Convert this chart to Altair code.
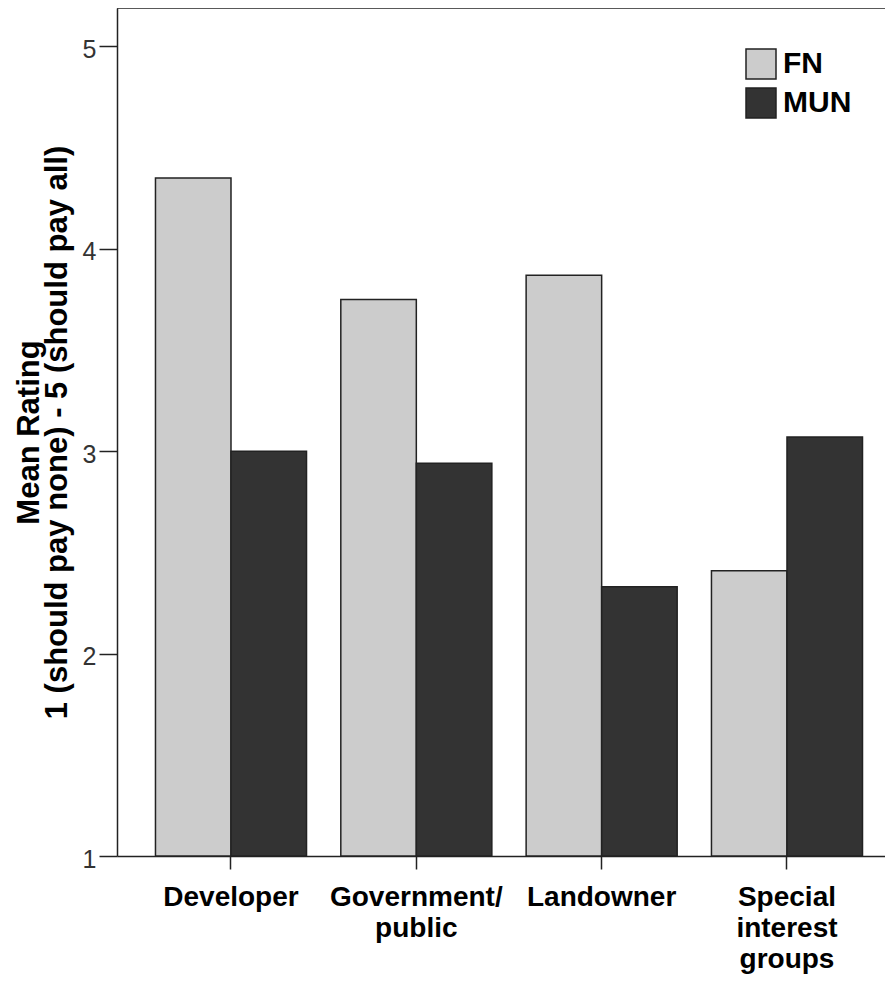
import altair as alt
import pandas as pd

categories = ["Developer", "Government/ public", "Landowner", "Special interest groups"]
groups = ["FN", "MUN"]
fn_values = [4.35, 3.75, 3.87, 2.41]
mun_values = [3.00, 2.94, 2.33, 3.07]
y_ticks = [1, 2, 3, 4, 5]
colors = ["#cccccc", "#333333"]

rows = []
for c, f, m in zip(categories, fn_values, mun_values):
    rows.append({"category": c, "group": "FN", "rating": f})
    rows.append({"category": c, "group": "MUN", "rating": m})
df = pd.DataFrame(rows)

W, H = 768, 848
FONT = "Liberation Sans"

label_expr = (
    "datum.label == 'Government/ public' ? ['Government/', 'public'] : "
    "datum.label == 'Special interest groups' ? ['Special', 'interest', 'groups'] : datum.label"
)

bars = alt.Chart(df).mark_bar(stroke="#222222", strokeWidth=1.5).encode(
    x=alt.X(
        "category:N",
        sort=categories,
        scale=alt.Scale(paddingInner=0.185, paddingOuter=0.1645, align=0.631, round=False),
        axis=alt.Axis(
            title=None, labelAngle=0, labelExpr=label_expr, labelFont=FONT,
            labelFontSize=28, labelFontWeight="bold", labelColor="#000000",
            labelLineHeight=31, labelPadding=14, labelBaseline="top", labelLimit=0,
            tickSize=13, tickColor="#222222", tickWidth=1.5,
            domainColor="#222222", domainWidth=1.5, grid=False,
        ),
    ),
    xOffset=alt.XOffset("group:N", sort=groups, scale=alt.Scale(paddingInner=0, paddingOuter=0)),
    y=alt.Y(
        "rating:Q",
        scale=alt.Scale(domain=[1, 5.19], zero=False, nice=False),
        axis=alt.Axis(
            values=y_ticks, format="d",
            title=["Mean Rating", "1 (should pay none) - 5 (should pay all)"],
            titleFont=FONT, titleFontSize=31, titleFontWeight="bold", titleColor="#000000",
            titleLineHeight=28, titlePadding=9,
            labelFont=FONT, labelFontSize=25, labelColor="#333333", labelPadding=3,
            labelOffset=3,
            tickSize=18, tickColor="#222222", tickWidth=1.5,
            domainColor="#222222", domainWidth=1.5, grid=False,
        ),
    ),
    y2=alt.datum(1),
    fill=alt.Fill(
        "group:N",
        scale=alt.Scale(domain=groups, range=colors),
        legend=alt.Legend(
            title=None, orient="none", legendX=628, legendY=40,
            symbolType="square", symbolSize=900, symbolStrokeColor="#222222",
            symbolStrokeWidth=1.5, symbolOpacity=1,
            labelFont=FONT, labelFontSize=30, labelFontWeight="bold", labelColor="#000000",
            labelOffset=6, rowPadding=3, padding=0,
        ),
    ),
)

top_line = alt.Chart(pd.DataFrame({"k": [0]})).mark_rule(color="#222222", strokeWidth=1.5).encode(
    x=alt.value(0), x2=alt.value(W), y=alt.value(0)
)

chart = alt.layer(bars, top_line).properties(
    width=W, height=H,
    autosize=alt.AutoSizeParams(type="none"),
    padding={"left": 109, "top": 0, "right": 0, "bottom": 120},
    background="white",
).configure_view(strokeOpacity=0)

chart.save("out.html", embed_options={"renderer": "svg", "actions": False})
